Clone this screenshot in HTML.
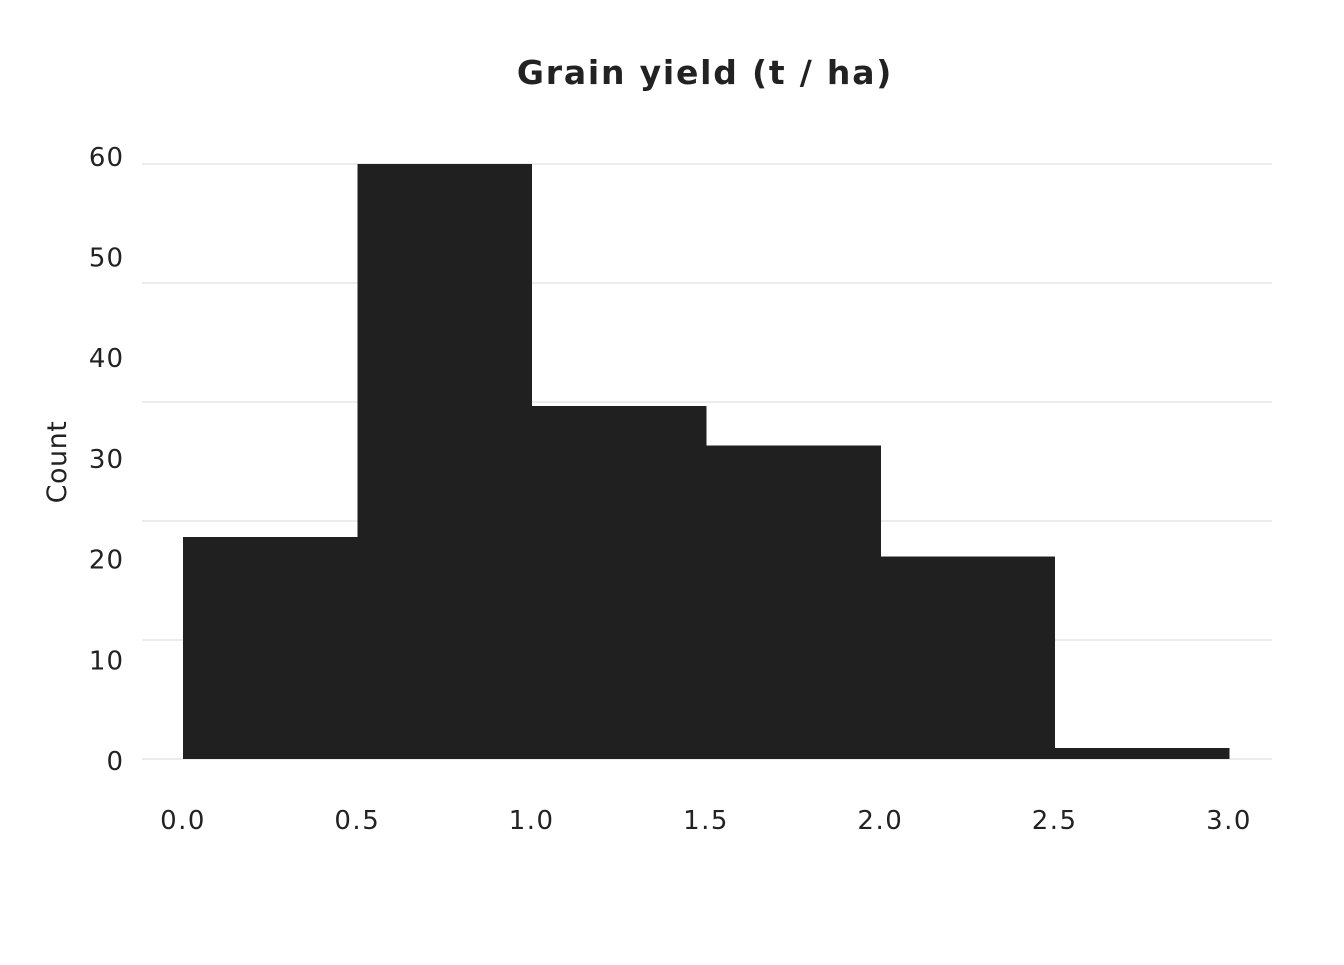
<!DOCTYPE html>
<html><head><meta charset="utf-8"><style>
body{margin:0;background:#fff;}
svg text{font-family:"DejaVu Sans","Liberation Sans",sans-serif;fill:#222;}
</style></head><body>
<svg id="chart" width="1344" height="960" xmlns="http://www.w3.org/2000/svg">
<text x="705" y="84" text-anchor="middle" font-size="33" font-weight="bold" letter-spacing="1.8">Grain yield (t / ha)</text>
<text transform="translate(66,462) rotate(-90)" text-anchor="middle" font-size="27" letter-spacing="0.5">Count</text>
<g id="grid"></g><g id="bars"></g><g id="yticks"></g><g id="xticks"></g>
</svg>
<script>
const binStarts = [0, 0.5, 1.0, 1.5, 2.0, 2.5];
const binWidth = 0.5;
const counts = [22.4, 60, 35.6, 31.6, 20.4, 1.1];
const gridValues = [0, 12, 24, 36, 48, 60];
const yTickLabels = ["0","10","20","30","40","50","60"];
const xTickValues = [0, 0.5, 1.0, 1.5, 2.0, 2.5, 3.0];
const xTickLabels = ["0.0","0.5","1.0","1.5","2.0","2.5","3.0"];

const NS = "http://www.w3.org/2000/svg";
const x = v => 183 + v * 348.67;
const y = v => 759 - v * (595 / 60);
const yLab = i => 770 - i * 100.7;
function mk(tag, attrs, parent){const e=document.createElementNS(NS,tag);for(const k in attrs)e.setAttribute(k,attrs[k]);document.getElementById(parent).appendChild(e);return e;}

gridValues.forEach(v=>{
  const l=mk('line',{x1:142,x2:1272,y1:y(v),y2:y(v),stroke:'#e6e6e6','stroke-width':1.5},'grid');
  
  
});
counts.forEach((c,i)=>{
  const r=mk('rect',{x:x(binStarts[i]),y:y(c),width:x(binStarts[i]+binWidth)-x(binStarts[i])+0.5,height:y(0)-y(c),fill:'#202020','shape-rendering':'crispEdges'},'bars');
  
  
});
yTickLabels.forEach((t,i)=>{
  const e=mk('text',{x:124,y:yLab(i),'text-anchor':'end','font-size':26,'letter-spacing':1},'yticks');
  e.textContent=t;
  
  
});
xTickValues.forEach((v,i)=>{
  const e=mk('text',{x:x(v),y:829,'text-anchor':'middle','font-size':26,'letter-spacing':1.5},'xticks');
  e.textContent=xTickLabels[i];
  
  
});
</script>
</body></html>
